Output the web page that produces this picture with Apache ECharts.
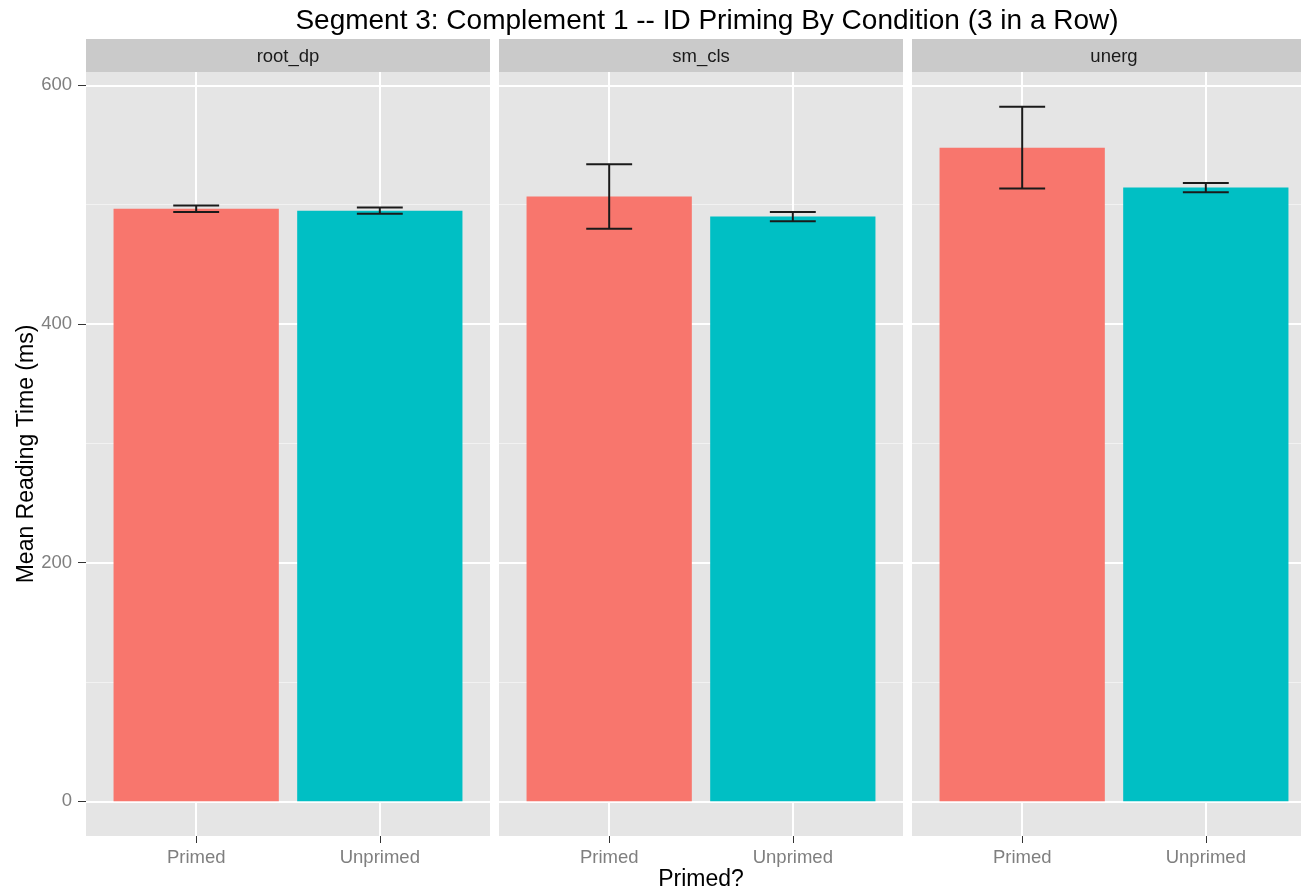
<!DOCTYPE html>
<html>
<head>
<meta charset="utf-8">
<title>Segment 3: Complement 1 -- ID Priming By Condition (3 in a Row)</title>
<script src="https://cdn.jsdelivr.net/npm/echarts@6.0.0/dist/echarts.min.js"></script>
<style>
  html, body { margin: 0; padding: 0; background: #ffffff; }
  #chart { width: 1301px; height: 891px; }
</style>
</head>
<body>
<div id="chart"></div>
<script>
// Facets, categories and summary statistics (mean and standard error, ms)
const facets = ['root_dp', 'sm_cls', 'unerg'];
const categories = ['Primed', 'Unprimed'];
const primedMean = [496.6, 506.8, 547.8];
const primedSE = [2.8, 27.0, 34.3];
const unprimedMean = [495.0, 490.0, 514.3];
const unprimedSE = [2.7, 3.8, 3.9];
const yTicks = [0, 200, 400, 600];

const colors = ['#F8766D', '#00BFC4'];
const FONT = 'Liberation Sans, Arial, Helvetica, sans-serif';

// Panel layout (pixels)
const panelLeft = [86, 499, 912];
const panelWidth = 404;
const panelTop = 72;
const panelBottom = 836;
const stripTop = 39;

// y range: bars start at zero, padded by 5% of the data range like ggplot2
const yHigh = Math.max(
  ...primedMean.map((m, i) => m + primedSE[i]),
  ...unprimedMean.map((m, i) => m + unprimedSE[i])
);
const yPad = 0.05 * yHigh;
const yMin = -yPad;
const yMax = yHigh + yPad;

const chart = echarts.init(document.getElementById('chart'), null, { renderer: 'canvas' });

const grids = [], xAxes = [], yAxes = [], series = [], graphics = [];

facets.forEach((facet, i) => {
  grids.push({
    left: panelLeft[i], width: panelWidth,
    top: panelTop, height: panelBottom - panelTop,
    outerBoundsMode: 'none', containLabel: false,
    show: true, backgroundColor: '#E5E5E5', borderWidth: 0
  });
  xAxes.push({
    type: 'value', gridIndex: i, min: 0.4, max: 2.6, position: 'bottom',
    axisLine: { show: false, onZero: false },
    axisTick: { show: true, customValues: [1, 2], length: 7, lineStyle: { color: '#333333', width: 1 } },
    axisLabel: {
      show: true, customValues: [1, 2], margin: 12,
      formatter: v => categories[Math.round(v) - 1] || '',
      color: '#7F7F7F', fontSize: 18.5, fontFamily: FONT
    },
    splitLine: { show: true, lineStyle: { color: '#FFFFFF', width: 2 } },
    minorSplitLine: { show: false },
    name: i === 1 ? 'Primed?' : '',
    nameLocation: 'middle', nameGap: 32, nameMoveOverlap: false,
    nameTextStyle: { color: '#000000', fontSize: 23, fontFamily: FONT }
  });
  yAxes.push({
    type: 'value', gridIndex: i, min: yMin, max: yMax, splitNumber: 3, position: 'left',
    axisLine: { show: false, onZero: false },
    axisTick: { show: i === 0, customValues: yTicks, length: 8, lineStyle: { color: '#333333', width: 1 } },
    axisLabel: {
      show: i === 0, customValues: yTicks, margin: 14,
      color: '#7F7F7F', fontSize: 18.5, fontFamily: FONT
    },
    splitLine: { show: true, lineStyle: { color: '#FFFFFF', width: 2 } },
    minorTick: { show: false, splitNumber: 2 },
    minorSplitLine: { show: true, lineStyle: { color: '#F2F2F2', width: 1 } },
    name: i === 0 ? 'Mean Reading Time (ms)' : '',
    nameLocation: 'middle', nameGap: 48, nameRotate: 90, nameMoveOverlap: false,
    nameTextStyle: { color: '#000000', fontSize: 23, fontFamily: FONT }
  });

  const barData = [
    [1, primedMean[i], 0],
    [2, unprimedMean[i], 1]
  ];
  const errData = [
    [1, primedMean[i] - primedSE[i], primedMean[i] + primedSE[i]],
    [2, unprimedMean[i] - unprimedSE[i], unprimedMean[i] + unprimedSE[i]]
  ];

  // Bars: 0.9 of a category unit wide, drawn from zero to the mean
  series.push({
    type: 'custom', name: facet + ' bars', xAxisIndex: i, yAxisIndex: i,
    data: barData, z: 2,
    renderItem: (params, api) => {
      const x = api.value(0), y = api.value(1), c = api.value(2);
      const p0 = api.coord([x - 0.45, 0]);
      const p1 = api.coord([x + 0.45, y]);
      return {
        type: 'rect',
        shape: { x: p0[0], y: p1[1], width: p1[0] - p0[0], height: p0[1] - p1[1] },
        style: { fill: colors[c] }
      };
    }
  });

  // Error bars: mean ± SE with caps 0.25 units wide
  series.push({
    type: 'custom', name: facet + ' error', xAxisIndex: i, yAxisIndex: i,
    data: errData, z: 3,
    renderItem: (params, api) => {
      const x = api.value(0), lo = api.value(1), hi = api.value(2);
      const a = api.coord([x, hi]), b = api.coord([x, lo]);
      const l = api.coord([x - 0.125, hi])[0], r = api.coord([x + 0.125, hi])[0];
      const st = { stroke: '#1A1A1A', lineWidth: 2 };
      return {
        type: 'group',
        children: [
          { type: 'line', shape: { x1: a[0], y1: a[1], x2: b[0], y2: b[1] }, style: st },
          { type: 'line', shape: { x1: l, y1: a[1], x2: r, y2: a[1] }, style: st },
          { type: 'line', shape: { x1: l, y1: b[1], x2: r, y2: b[1] }, style: st }
        ]
      };
    }
  });

  // Facet strip
  graphics.push({
    type: 'rect',
    shape: { x: panelLeft[i], y: stripTop, width: panelWidth, height: panelTop - stripTop },
    style: { fill: '#CACACA' }
  });
  graphics.push({
    type: 'text',
    x: panelLeft[i] + panelWidth / 2, y: (stripTop + panelTop) / 2 + 1,
    style: {
      text: facet, fill: '#1A1A1A', fontSize: 18.5, fontFamily: FONT,
      textAlign: 'center', textVerticalAlign: 'middle'
    }
  });
});

graphics.push({
  type: 'text', x: 707, y: 21,
  style: {
    text: 'Segment 3: Complement 1 -- ID Priming By Condition (3 in a Row)',
    fill: '#000000', fontSize: 28, fontFamily: FONT,
    textAlign: 'center', textVerticalAlign: 'middle'
  }
});

chart.setOption({
  animation: false,
  backgroundColor: '#FFFFFF',
  textStyle: { fontFamily: FONT },
  grid: grids,
  xAxis: xAxes,
  yAxis: yAxes,
  series: series,
  graphic: graphics
});
</script>
</body>
</html>
